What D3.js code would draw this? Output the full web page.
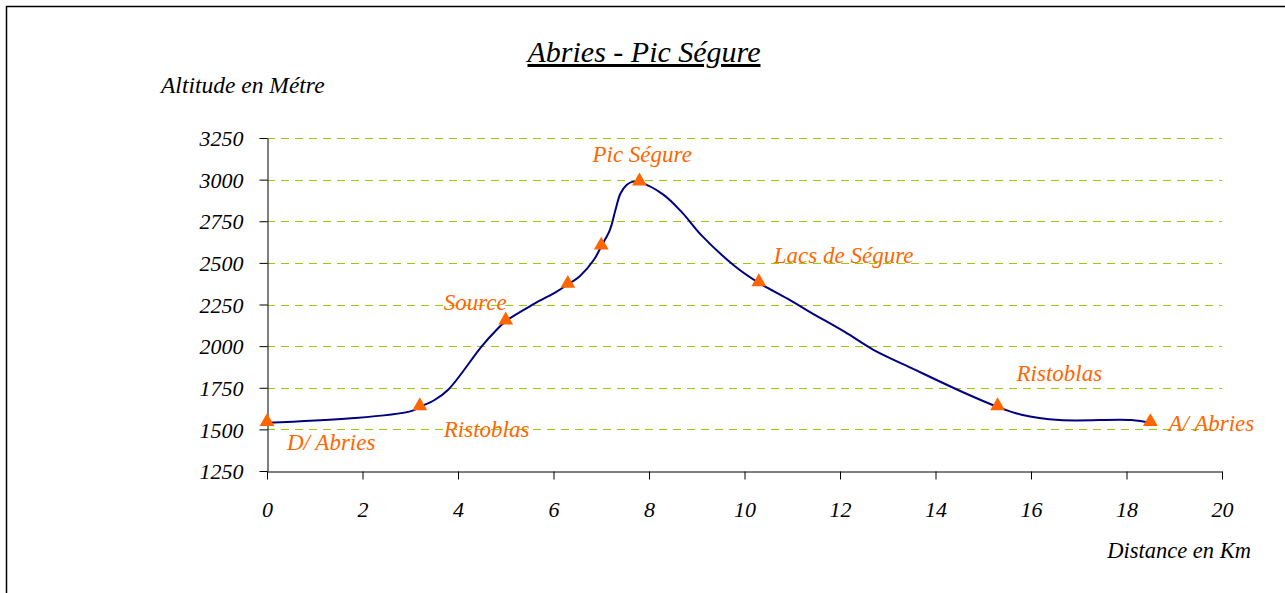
<!DOCTYPE html>
<html>
<head>
<meta charset="utf-8">
<script src="https://cdn.jsdelivr.net/npm/d3@7"></script>
<style>
  body { margin: 0; background: #fff; }
  text { font-family: "Liberation Serif", "DejaVu Serif", serif; font-style: italic; }
</style>
</head>
<body>
<div id="chart"></div>
<script>
// profile of the walk (km, metres)
var distances = [0, 1.7, 3.0, 3.2, 3.5, 3.8, 4.5, 4.8, 5.0, 5.6, 6.05, 6.3, 6.55, 6.85, 7.0, 7.18, 7.3, 7.4, 7.53, 7.67, 7.8,
    8.3, 8.7, 9.1, 9.8, 10.3, 10.9, 11.4, 12.1, 12.7, 13.5, 14.6, 15.3, 15.8, 16.6, 18.1, 18.5];
var altitudes = [1540, 1565, 1608, 1635, 1675, 1740, 2000, 2095, 2150, 2255, 2325, 2370, 2420, 2520, 2600, 2697, 2820, 2915, 2968, 2988, 2985,
    2910, 2800, 2665, 2480, 2380, 2285, 2200, 2085, 1978, 1868, 1720, 1635, 1588, 1556, 1556, 1540];

// waypoints
var stopKm = [0, 3.2, 5.0, 6.3, 7.0, 7.8, 10.3, 15.3, 18.5];
var stopAlt = [1540, 1635, 2150, 2370, 2600, 2985, 2380, 1635, 1540];
var stopNames = ['D/ Abries', 'Ristoblas', 'Source', '', '', 'Pic Ségure', 'Lacs de Ségure', 'Ristoblas', 'A/ Abries'];

var yTicks = [1250, 1500, 1750, 2000, 2250, 2500, 2750, 3000, 3250];
var xTicks = [0, 2, 4, 6, 8, 10, 12, 14, 16, 18, 20];

var width = 1285;
var height = 593;
var plotLeft = 267, plotRight = 1222, plotTop = 138, plotBottom = 471;

var svg = d3.select('#chart')
    .append('svg')
    .attr('width', width)
    .attr('height', height);

// outer frame
svg.append('rect')
    .attr('x', 6.5).attr('y', 6.5)
    .attr('width', 1300).attr('height', 700)
    .attr('fill', 'none')
    .attr('stroke', '#000')
    .attr('stroke-width', 1.5);

var x = d3.scaleLinear().domain([0, 20]).range([plotLeft, plotRight]);
var y = d3.scaleLinear().domain([1250, 3250]).range([plotBottom, plotTop]);

// grid
svg.selectAll('.grid')
    .data(yTicks.slice(1))
    .enter()
    .append('line')
    .attr('class', 'grid')
    .attr('x1', plotLeft).attr('x2', plotRight)
    .attr('y1', function (d) {return Math.round(y(d)) + 0.5;})
    .attr('y2', function (d) {return Math.round(y(d)) + 0.5;})
    .attr('stroke', '#99CC00')
    .attr('stroke-width', 1)
    .attr('shape-rendering', 'crispEdges')
    .attr('stroke-dasharray', '8,6');

// axes
var yAxis = svg.append('g')
    .attr('transform', 'translate(' + (plotLeft + 0.5) + ',0)')
    .call(d3.axisLeft(y).tickValues(yTicks).tickFormat(d3.format('d'))
        .tickSize(8).tickPadding(16).tickSizeOuter(0));
var xAxis = svg.append('g')
    .attr('transform', 'translate(0,' + (plotBottom + 0.5) + ')')
    .call(d3.axisBottom(x).tickValues(xTicks).tickSize(8).tickPadding(22).tickSizeOuter(0));

[yAxis, xAxis].forEach(function (a) {
    a.select('.domain').attr('stroke', '#000');
    a.selectAll('.tick line').attr('stroke', '#000');
    a.selectAll('.tick text')
        .style('font-family', '"Liberation Serif", serif')
        .style('font-style', 'italic')
        .style('font-size', '22px')
        .attr('fill', '#000');
});
yAxis.selectAll('.tick text').attr('dy', '0.35em');

// profile line
var pts = distances.map(function (d, i) {return [d, altitudes[i]];});
var line = d3.line()
    .x(function (d) {return x(d[0]);})
    .y(function (d) {return y(d[1]);})
    .curve(d3.curveCatmullRom.alpha(0.5));

svg.append('path')
    .datum(pts)
    .attr('d', line)
    .attr('fill', 'none')
    .attr('stroke', '#000080')
    .attr('stroke-width', 2);

// waypoint markers
var stops = stopKm.map(function (d, i) {return {km: d, alt: stopAlt[i], name: stopNames[i]};});
var tri = d3.symbol().type(d3.symbolTriangle).size(95);

svg.selectAll('.stop')
    .data(stops)
    .enter()
    .append('path')
    .attr('class', 'stop')
    .attr('d', tri)
    .attr('transform', function (d) {return 'translate(' + x(d.km) + ',' + (y(d.alt) - 1) + ')';})
    .attr('fill', '#FF6600');

// label offsets relative to markers
var labelDx = [20, 24, -62, 0, 0, -47, 15, 19, 18];
var labelDy = [27, 30, -11, 0, 0, -20, -20, -26, 8];

svg.selectAll('.stop-label')
    .data(stops)
    .enter()
    .append('text')
    .attr('class', 'stop-label')
    .attr('x', function (d, i) {return x(d.km) + labelDx[i];})
    .attr('y', function (d, i) {return y(d.alt) + labelDy[i];})
    .attr('fill', '#FF6600')
    .style('font-size', '23px')
    .text(function (d) {return d.name;});

// titles
svg.append('text')
    .attr('x', 644).attr('y', 62)
    .attr('text-anchor', 'middle')
    .style('font-size', '30px')
    .style('text-decoration', 'underline')
    .text('Abries - Pic Ségure');

svg.append('text')
    .attr('x', 161).attr('y', 93)
    .style('font-size', '23.5px')
    .text('Altitude en Métre');

svg.append('text')
    .attr('x', 1251).attr('y', 558)
    .attr('text-anchor', 'end')
    .style('font-size', '22.5px')
    .text('Distance en Km');
</script>
</body>
</html>
